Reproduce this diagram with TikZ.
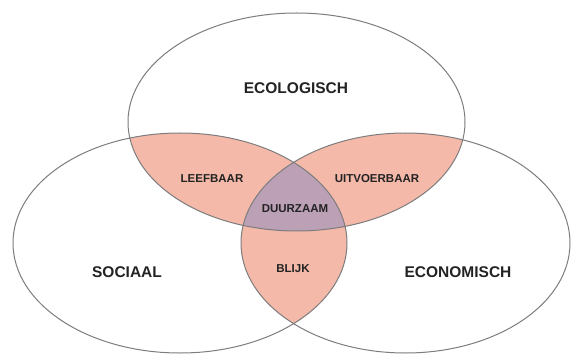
\documentclass[tikz,border=0pt]{standalone}
\usepackage{fontspec}
\setmainfont{Liberation Sans}
\definecolor{salmon}{RGB}{245,185,170}
\definecolor{duur}{RGB}{187,160,182}
\definecolor{edge}{RGB}{125,125,125}
\definecolor{txt}{RGB}{35,35,35}
\begin{document}
\begin{tikzpicture}[x=1pt,y=-1pt,
  big/.style={font=\fontsize{15.5}{17}\selectfont\bfseries, text=txt, inner sep=0pt},
  small/.style={font=\fontsize{11.5}{13}\selectfont\bfseries, text=txt, inner sep=0pt},
  outline/.style={draw=edge, line width=1pt}]
\useasboundingbox (0,0) rectangle (572,355);
\fill[white] (0,0) rectangle (572,355);
\def\Top{(296.5,122) ellipse [x radius=168.5pt, y radius=109pt]}
\def\Lft{(180,243) ellipse [x radius=167pt, y radius=110pt]}
\def\Rgt{(405.5,243) ellipse [x radius=164.5pt, y radius=110pt]}
% pairwise intersections
\begin{scope}
  \clip \Top;
  \fill[salmon] \Lft;
  \fill[salmon] \Rgt;
\end{scope}
\begin{scope}
  \clip \Lft;
  \fill[salmon] \Rgt;
\end{scope}
% triple intersection
\begin{scope}
  \clip \Top;
  \clip \Lft;
  \fill[duur] \Rgt;
\end{scope}
% outlines
\draw[outline] \Top;
\draw[outline] \Lft;
\draw[outline] \Rgt;
% labels
\node[big] (eco) at (296,88) {ECOLOGISCH};
\node[big] (soc) at (127,272) {SOCIAAL};
\node[big] (econ) at (458,272) {ECONOMISCH};
\node[small] (leef) at (212,179) {LEEFBAAR};
\node[small] (uitv) at (377,179) {UITVOERBAAR};
\node[small] (duurz) at (295,209) {DUURZAAM};
\node[small] (blijk) at (293,269) {BLIJK};
\end{tikzpicture}
\end{document}
